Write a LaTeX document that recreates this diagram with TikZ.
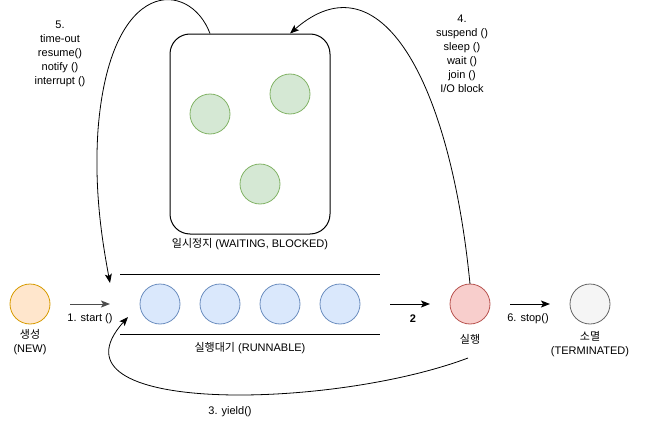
\documentclass[tikz,border=0pt]{standalone}
\usepackage{fontspec}
\setmainfont{Liberation Sans}
\newfontfamily\kr{Noto Sans CJK KR}
\usetikzlibrary{arrows.meta, positioning, calc}
\definecolor{naranjaF}{HTML}{FFE6CC}
\definecolor{naranjaB}{HTML}{D79B00}
\definecolor{azulF}{HTML}{DAE8FC}
\definecolor{azulB}{HTML}{6C8EBF}
\definecolor{rojoF}{HTML}{F8CECC}
\definecolor{rojoB}{HTML}{B85450}
\definecolor{grisF}{HTML}{F5F5F5}
\definecolor{grisB}{HTML}{666666}
\definecolor{verdeF}{HTML}{D5E8D4}
\definecolor{verdeB}{HTML}{82B366}
\tikzset{
    hilo/.style={
        circle, draw, line width=0.8pt,
        minimum size=40pt, inner sep=0pt, outer sep=0pt
    },
    flecha/.style={-{Stealth[length=9pt, width=7pt, inset=2pt]}, line width=1pt},
    curva/.style={-{Stealth[length=9pt, width=7pt, inset=2pt]}, line width=0.8pt},
    etiqueta/.style={font=\fontsize{11}{14}\selectfont, align=center, inner sep=1pt}
}

\begin{document}
\begin{tikzpicture}[x=1pt, y=-1pt, node distance=20pt]

    \useasboundingbox (0,0) rectangle (646,431);

    % estados
    \node[hilo, fill=naranjaF, draw=naranjaB] (nuevo) at (30,304) {};
    \node[hilo, fill=azulF, draw=azulB] (r1) at (160,304) {};
    \node[hilo, fill=azulF, draw=azulB, right=of r1] (r2) {};
    \node[hilo, fill=azulF, draw=azulB, right=of r2] (r3) {};
    \node[hilo, fill=azulF, draw=azulB, right=of r3] (r4) {};
    \node[hilo, fill=rojoF, draw=rojoB] (ejec) at (470,304) {};
    \node[hilo, fill=grisF, draw=grisB] (fin) at (590,304) {};

    % cola de espera
    \node[minimum width=260pt, minimum height=60pt, inner sep=0pt, outer sep=0pt] (cola) at (250,304) {};
    \draw[line width=1pt] (cola.north west) -- (cola.north east);
    \draw[line width=1pt] (cola.south west) -- (cola.south east);

    \node[draw, line width=1pt, rounded corners=20pt,
          minimum width=160pt, minimum height=200pt] (espera) at (250,134) {};
    \node[hilo, fill=verdeF, draw=verdeB] (w1) at (210,114) {};
    \node[hilo, fill=verdeF, draw=verdeB] (w2) at (290,94) {};
    \node[hilo, fill=verdeF, draw=verdeB] (w3) at (260,184) {};

    \node[etiqueta, below=4pt of nuevo] (lnuevo) {{\kr 생성}\\(NEW)};
    \node[etiqueta, below=7pt of cola] (lcola) {{\kr 실행대기} (RUNNABLE)};
    \node[etiqueta, below=9pt of ejec] (lejec) {{\kr 실행}};
    \node[etiqueta, below=6pt of fin] (lfin) {{\kr 소멸}\\(TERMINATED)};
    \node[etiqueta, below=3pt of espera] (lespera) {{\kr 일시정지} (WAITING, BLOCKED)};

    % transiciones
    \draw[flecha, draw=black!70] ([xshift=20pt]nuevo.east) -- ([xshift=-10pt]cola.west);
    \draw[flecha] ([xshift=10pt]cola.east) -- ([xshift=-20pt]ejec.west);
    \draw[flecha] ([xshift=20pt]ejec.east) -- ([xshift=-20pt]fin.west);

    \coordinate (entrada5) at (110,283);
    \coordinate (entrada3) at (128,317);
    \coordinate (salida3) at (468,358);

    \draw[curva] ([xshift=-40pt]espera.north)
        .. controls (190,-20) and (110,-25) .. (98,130)
        .. controls (94,190) and (102,240) .. (entrada5);
    \draw[curva] (ejec.north)
        .. controls (450,80) and (380,-45) .. ([xshift=40pt]espera.north);
    \draw[curva] (salida3)
        .. controls (330,410) and (40,415) .. (entrada3);

    \node[etiqueta] (l1) at (90,319) {1. start ()};
    \node[etiqueta, font=\fontsize{11}{14}\selectfont\bfseries] (l2) at (413,319) {2};
    \node[etiqueta] (l3) at (230,412) {3. yield()};
    \node[etiqueta] (l4) at (462,54) {4.\\suspend ()\\sleep ()\\wait ()\\join ()\\I/O block};
    \node[etiqueta] (l5) at (60,54) {5.\\time-out\\resume()\\notify ()\\interrupt ()};
    \node[etiqueta] (l6) at (528,319) {6. stop()};

\end{tikzpicture}
\end{document}
